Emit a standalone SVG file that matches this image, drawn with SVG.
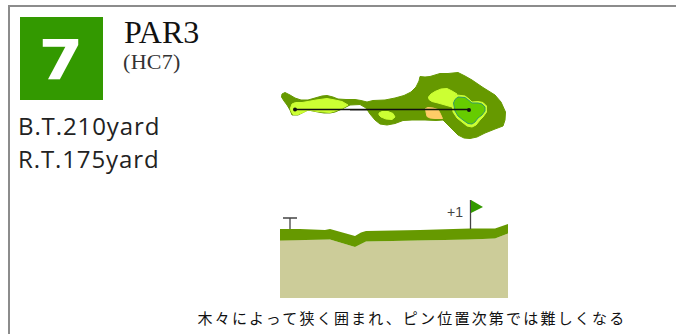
<svg xmlns="http://www.w3.org/2000/svg" width="676" height="334" viewBox="0 0 676 334">
<style>
.sans{font-family:"Liberation Sans",Arial,sans-serif}
.ser{font-family:"Liberation Serif","Times New Roman",serif}
.lat{font-family:"Open Sans","Noto Sans",sans-serif;font-size:24px;fill:#222;letter-spacing:.9px}
.soft{stroke-width:1;stroke-linejoin:round}
</style>
<rect width="676" height="334" fill="#fff"/>
<path d="M9 334V6H676" fill="none" stroke="#8c8c8c" stroke-width="2"/>
<g id="hole-number">
<rect x="20" y="17" width="83" height="83" fill="#339900"/>
<text transform="translate(61 79) scale(1.150 1)" text-anchor="middle" font-family="'DejaVu Sans',sans-serif" font-size="56" font-weight="700" fill="#fff">7</text>
</g>
<g id="par">
<text x="124" y="43" class="ser" font-size="32" fill="#111">PAR3</text>
<text x="123" y="69" class="ser" font-size="22" letter-spacing=".3" fill="#333">(HC7)</text>
</g>
<g id="yardage">
<text x="18" y="135" class="lat">B.T.210yard</text>
<text x="18" y="168" class="lat">R.T.175yard</text>
</g>
<g id="course-plan">
<path class="soft" stroke="#669900" d="M281.500 97L282 94L285 92.500L290 95L295 98L301 100L308 100L315 98L322 96L327 95.500L333 97L338 99L346 99.500L355 99.500L361 100.500L367 102L373 100.500L385 100L395 98L404 95.500L411 92L416 87L419 81L420 76.500L425 77L430 76.500L435 75L440 73.500L448 73.500L458 72.500L465 76L472 80L483 87.500L495 95L501 102L505.500 112L505 120L503 126L495 129L485 133L477 137L470 138.500L464 138L458 135L451 128L443 120L436 120.500L425 120L412 120L403 120.500L395 123.500L387 125L380 124L375 120L370 114L366 108L360 104.500L350 105L342 109L335 112L330 113L324 113L318 112L308 110L303 112.500L298 115L292 115L290 110L287 105L284 101Z" fill="#669900"/>
<path class="soft" stroke="#ccff33" d="M290.500 108L292 104L295.500 102.500L302 102.500L308 101.500L316 100L327 98.500L335 100L342 101.500L348 105L342 108.500L335 111L330 112.500L324 112L318 111.500L308 110L303 112.500L298 114.500L293 114.500L291 111Z" fill="#ccff33"/>
<path class="soft" stroke="#ccff33" d="M379 113L382 111.500L388 111.500L393 113.500L395 117L392 119.500L386 119L381 117L379 115Z" fill="#ccff33"/>
<path class="soft" stroke="#ccff33" d="M428.500 97L431 94L435 91.500L441 89L447 88.500L452 91L457 94L454 98L452 102L452 107L445 105L438 103L432 101.500L429 99.500Z" fill="#ccff33"/>
<path class="soft" stroke="#ffcc66" d="M425.500 108.500L428 107.500L433 108L438 109.500L440 113L442.500 118.500L435 118.500L430 118L427 116.500L426 112Z" fill="#ffcc66"/>
<path class="soft" stroke="#ccff33" d="M452 103L454 98L457 95L465 96L469 99L472 102L478 101.500L483 102.500L486.500 106L486.500 112L483 117L480 120L476 125L472 127L467 126L462 122L457 118L453 112Z" fill="#ccff33"/>
<path stroke="#339966" stroke-width="1" stroke-linejoin="round" d="M453.500 103L455 99.500L458 97L465 97.500L469 100.500L472 103L478 103L482 104L485 107L485 111L482 115L478 118L475 122L472 124L468 123.500L463 120L458 116L455 111Z" fill="#66cc00"/>
</g>
<g id="connectors">
<path d="M295 109.500H469" fill="none" stroke="#111" stroke-width="1.300"/>
<path d="M350 110.500H367" fill="none" stroke="#888" stroke-width="1"/>
<circle cx="295" cy="109.500" r="2" fill="#111"/>
<circle cx="469" cy="110" r="2" fill="#111"/>
</g>
<g id="course-profile">
<path d="M280 240L330 239.500L355 247L366 241.500L470 239.500L495 238.500L508 233.500V298H280Z" fill="#cccc99"/>
<path d="M280 229L300 229L325 230L330 229L355 236L361 232.500L366 231L420 230L470 228.500L495 228.500L508 224V233.500L495 238.500L470 239.500L366 241.500L355 247L330 239.500L280 240.500Z" fill="#669900"/>
</g>
<g id="tee">
<path d="M290 229V218M283 218H297" fill="none" stroke="#444" stroke-width="1.300"/>
</g>
<g id="pin">
<path d="M470.500 229V200" fill="none" stroke="#444" stroke-width="1.300"/>
<path d="M471 200L483 207L471 213Z" fill="#339900"/>
<text x="447" y="217" class="sans" font-size="14" fill="#444">+1</text>
</g>
<text id="caption" x="412" y="324" text-anchor="middle" font-family="'Noto Sans CJK JP',sans-serif" font-size="15" letter-spacing="2.200" fill="#111">木々によって狭く囲まれ、ピン位置次第では難しくなる</text>
</svg>
